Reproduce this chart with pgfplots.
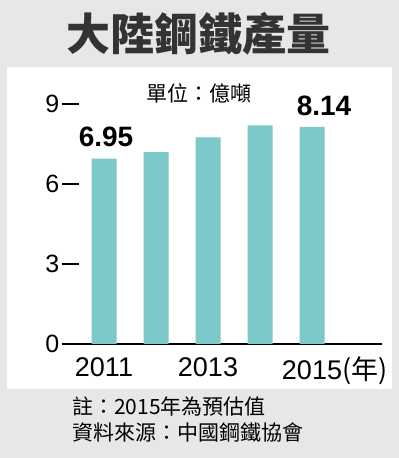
\documentclass[border=0pt]{standalone}
\usepackage{pgfplots}
\pgfplotsset{compat=1.18}
\usepackage{fontspec}
\setmainfont{Liberation Sans}
\newfontfamily\cjk{Noto Sans CJK TC}
\definecolor{bggray}{RGB}{231,231,231}
\definecolor{barteal}{RGB}{125,201,201}
\definecolor{titlegray}{RGB}{51,51,51}
\begin{document}
\begin{tikzpicture}
\fill[bggray] (0,0) rectangle (399bp,458bp);
\fill[white] (7bp,69bp) rectangle (392bp,391bp);
\node[font=\cjk\bfseries\fontsize{44bp}{48bp}\selectfont, text=titlegray, inner sep=0pt] at (198bp,424bp) {大陸鋼鐵產量};
\node[font=\cjk\fontsize{21bp}{24bp}\selectfont, inner sep=0pt] at (198.5bp,365bp) {單位：億噸};
\node[font=\cjk\fontsize{21bp}{24bp}\selectfont, inner sep=0pt, anchor=north west] at (72bp,61bp) {註：2015年為預估值};
\node[font=\cjk\fontsize{21bp}{24bp}\selectfont, inner sep=0pt, anchor=north west] at (72bp,35bp) {資料來源：中國鋼鐵協會};
\begin{axis}[
  at={(62bp,114bp)}, anchor=south west, scale only axis,
  width=320bp, height=240bp,
  xmin=2010.1923, xmax=2016.346, ymin=0, ymax=9,
  axis x line=bottom, axis y line=left,
  x axis line style={-, black, line width=1.3bp},
  y axis line style={draw=none},
  ytick={0,3,6,9}, xtick={2011,2013,2015},
  xticklabels={2011,2013,2015\rlap{\cjk(年)}},
  tick align=inside,
  major tick length=17bp,
  ytick style={black, line width=1.3bp},
  xtick style={draw=none},
  yticklabel style={font=\fontsize{25bp}{28bp}\selectfont, inner sep=0pt, xshift=-2.5bp},
  xticklabel style={font=\fontsize{27bp}{30bp}\selectfont, inner sep=0pt, yshift=-13bp},
  /pgf/number format/assume math mode=true,
  clip=false,
]
\addplot[ybar, bar width=25bp, fill=barteal, draw=none] coordinates {(2011,6.95) (2012,7.2) (2013,7.75) (2014,8.2) (2015,8.14)};
\addplot[draw=none, nodes near coords, point meta=explicit symbolic,
  nodes near coords style={font=\bfseries\fontsize{28bp}{30bp}\selectfont, anchor=base, inner sep=0pt, yshift=12.5bp, xshift=2bp}]
  coordinates {(2011,6.95)[6.95]};
\addplot[draw=none, nodes near coords, point meta=explicit symbolic,
  nodes near coords style={font=\bfseries\fontsize{28bp}{30bp}\selectfont, anchor=base, inner sep=0pt, yshift=11bp, xshift=12bp}]
  coordinates {(2015,8.14)[8.14]};
\end{axis}
\end{tikzpicture}
\end{document}
